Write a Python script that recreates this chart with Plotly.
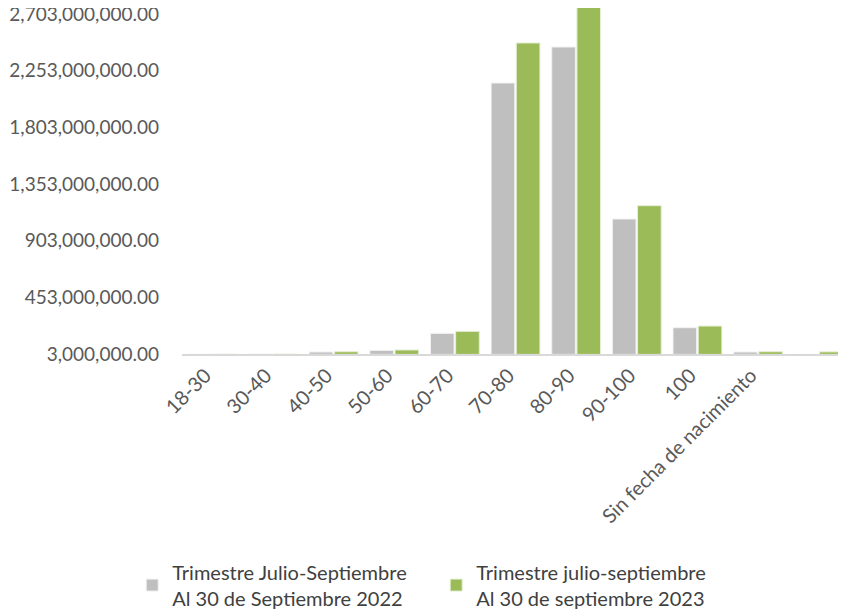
import plotly.graph_objects as go

# categorias por rango de edad (la ultima sin etiqueta)
categorias = ['18-30', '30-40', '40-50', '50-60', '60-70', '70-80', '80-90',
              '90-100', '100', 'Sin fecha de nacimiento', ' ']

# valores
trim_2022 = [1000000, 2000000, 19000000, 32000000, 167000000, 2155000000,
             2441000000, 1075000000, 212000000, 19000000, 0]
trim_2023 = [1000000, 2000000, 21000000, 35000000, 183000000, 2473000000,
             2782000000, 1181000000, 225000000, 21000000, 20000000]

nombres = ['Trimestre Julio-Septiembre<br>Al 30 de Septiembre 2022',
           'Trimestre julio-septiembre<br>Al 30 de septiembre 2023']

ticks_y = [3000000 + 450000000 * i for i in range(7)]

fuente = 'Lato'
gris_texto = '#595959'

fig = go.Figure()
fig.add_trace(go.Bar(x=categorias, y=trim_2022, name=nombres[0],
                     marker=dict(color='#BFBFBF', line=dict(color='#F2F2F2', width=1))))
fig.add_trace(go.Bar(x=categorias, y=trim_2023, name=nombres[1],
                     marker=dict(color='#9BBB59', line=dict(color='#E6EFD5', width=1))))

# la pagina tiene 8px de margen en el body, por eso 838x608
fig.update_layout(
    width=838, height=608,
    margin=dict(l=174, r=0, t=0, b=262, autoexpand=False),
    plot_bgcolor='white', paper_bgcolor='white',
    barmode='group', bargap=0.17, bargroupgap=0.06,
    font=dict(family=fuente, color=gris_texto),
    showlegend=True,
    legend=dict(orientation='h', x=-0.075, y=-0.574, xanchor='left', yanchor='top',
                font=dict(size=20, color='#404040'), entrywidth=259,
                itemwidth=30, tracegroupgap=0),
)
fig.update_xaxes(type='category', range=[-0.5, 10.45], showline=True,
                 linecolor='#D9D9D9', linewidth=2, ticks='', tickangle=-45,
                 tickfont=dict(size=20, color=gris_texto), showgrid=False,
                 ticklabelshift=-7, automargin=False)
fig.update_yaxes(range=[3000000, 2750600000], tickvals=ticks_y, tickformat=',.2f',
                 showgrid=False, zeroline=False, showline=False, ticks='',
                 tickfont=dict(size=19, color=gris_texto), ticklabelstandoff=22,
                 ticklabeloverflow='allow', automargin=False)

fig.write_html("out.html")
